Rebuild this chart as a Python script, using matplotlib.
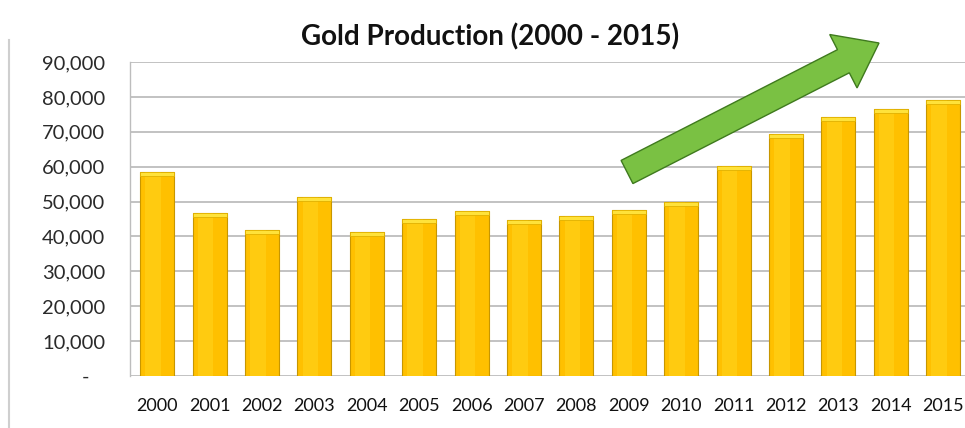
import matplotlib
matplotlib.use("Agg")
import matplotlib.pyplot as plt
import numpy as np
from matplotlib.patches import FancyArrow
from matplotlib.lines import Line2D

years = ["2000", "2001", "2002", "2003", "2004", "2005", "2006", "2007",
         "2008", "2009", "2010", "2011", "2012", "2013", "2014", "2015"]
production = [58500, 46700, 41800, 51300, 41300, 45000, 47300, 44700,
              45800, 47600, 49900, 60200, 69300, 74200, 76500, 79100]
y_ticks = [0, 10000, 20000, 30000, 40000, 50000, 60000, 70000, 80000, 90000]
y_labels = ["-   ", "10,000", "20,000", "30,000", "40,000", "50,000",
            "60,000", "70,000", "80,000", "90,000"]

plt.rcParams["font.family"] = ["Lato", "DejaVu Sans"]

fig = plt.figure(figsize=(9.65, 4.28), dpi=100)
ax = fig.add_axes([130 / 965, 1 - 376 / 428, 1 - 130 / 965 + 0.01, (376 - 62) / 428])

x = np.arange(len(years))
w = 0.65
# main bar face with darker shaded edge
ax.bar(x, production, width=w, color="#FFC000", edgecolor="#C79600", linewidth=0.8, zorder=3)
# lighter highlight stripe on the left part of the bar
ax.bar(x - w * 0.12, production, width=w * 0.45, color="#FFCB10", linewidth=0, zorder=3)
# top cap
cap = 1200
ax.bar(x, [cap] * len(x), bottom=np.array(production) - cap, width=w,
       color="#FFE23A", edgecolor="#E0B000", linewidth=0.6, zorder=4)

ax.set_xlim(-0.52, len(years) - 0.5 + 0.1)
ax.set_ylim(0, 90000)
ax.set_yticks(y_ticks)
ax.set_yticklabels(y_labels)
ax.set_xticks(x)
ax.set_xticklabels(years)
ax.tick_params(axis="y", length=0, pad=18, labelsize=14.5, labelcolor="#2A2A2A")
ax.tick_params(axis="x", length=0, pad=16, labelsize=13, labelcolor="#111111")
ax.grid(axis="y", color="#BDBDBD", linewidth=1.3, zorder=0)
ax.set_axisbelow(True)
for s in ["top", "right", "bottom"]:
    ax.spines[s].set_visible(False)
ax.spines["left"].set_color("#BDBDBD")
ax.spines["left"].set_linewidth(1.0)

fig.text(490 / 965, 1 - 37 / 428, "Gold Production (2000 - 2015)", ha="center", va="center",
         fontsize=20, fontweight="bold", color="#111111")

# green trend arrow (figure pixel coords)
fig_w, fig_h = 965, 428
x0, y0 = 627, fig_h - 172
x1, y1 = 879, fig_h - 43
fig.patches.append(FancyArrow(x0, y0, x1 - x0, y1 - y0, width=26, head_width=60,
                              head_length=40, length_includes_head=True,
                              facecolor="#7AC143", edgecolor="#3F7A1E", linewidth=1.0,
                              transform=None, figure=fig, zorder=10))

# frame line on the left of the picture
fig.add_artist(Line2D([9 / 965, 9 / 965], [0, 1 - 40 / 428], transform=fig.transFigure,
                      color="#CFCFCF", linewidth=1.5))

fig.savefig("out.png", dpi=100)
